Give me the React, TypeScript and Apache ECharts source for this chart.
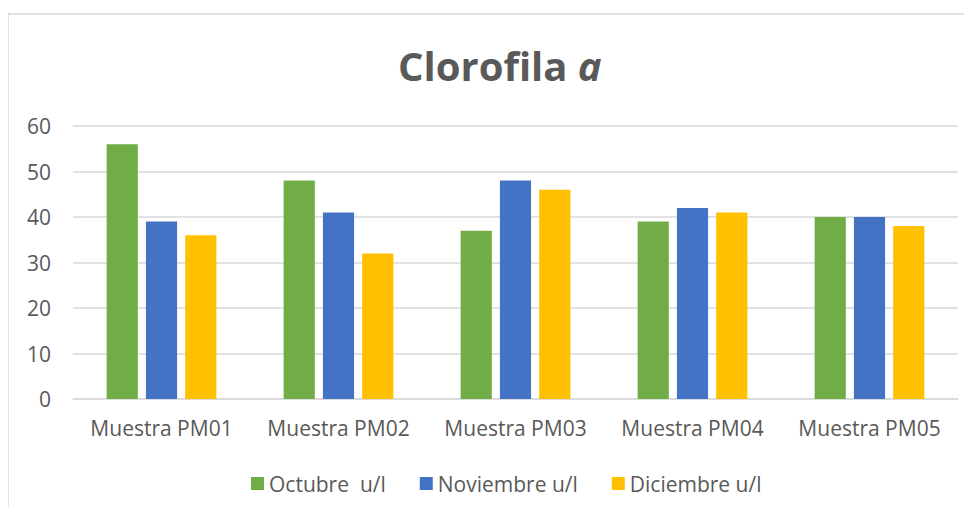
import React, { useEffect, useRef } from "react";
import * as echarts from "echarts";

const categories = ["Muestra PM01", "Muestra PM02", "Muestra PM03", "Muestra PM04", "Muestra PM05"];
const seriesNames = ["Octubre  u/l", "Noviembre u/l", "Diciembre u/l"];
const octubre = [56, 48, 37, 39, 40];
const noviembre = [39, 41, 48, 42, 40];
const diciembre = [36, 32, 46, 41, 38];
const colors = ["#70AD47", "#4472C4", "#FFC000"];
const yTicks = { min: 0, max: 60, interval: 10 };

const FONT = "'Open Sans', 'Noto Sans', sans-serif";
const TEXT = "#595959";

export default function App() {
  const ref = useRef<HTMLDivElement>(null);
  useEffect(() => {
    if (!ref.current) return;
    const chart = echarts.init(ref.current, null, { renderer: "svg" });
    const values = [octubre, noviembre, diciembre];
    chart.setOption({
      animation: false,
      backgroundColor: "#ffffff",
      textStyle: { fontFamily: FONT },
      title: {
        text: "Clorofila {i|a}",
        left: 393,
        top: 40,
        textStyle: {
          fontFamily: FONT,
          fontSize: 40,
          fontWeight: "bold",
          color: TEXT,
          rich: {
            i: { fontFamily: FONT, fontSize: 40, fontWeight: "bold", fontStyle: "italic", color: TEXT },
          },
        },
      },
      graphic: [
        {
          type: "rect",
          shape: { x: 8, y: 14, width: 1100, height: 700 },
          style: { fill: "none", stroke: "#d9d9d9", lineWidth: 1.5 },
          silent: true,
          z: -1,
        },
      ],
      legend: {
        data: seriesNames,
        left: 246,
        top: 468,
        itemWidth: 13,
        itemHeight: 13,
        itemGap: 34,
        icon: "rect",
        textStyle: { fontFamily: FONT, fontSize: 21, color: TEXT },
      },
      grid: { left: 73, right: 14, top: 126, bottom: 116, containLabel: false },
      xAxis: {
        type: "category",
        data: categories,
        axisLine: { lineStyle: { color: "#d9d9d9", width: 1.5 } },
        axisTick: { show: false },
        axisLabel: { color: TEXT, fontSize: 21, fontFamily: FONT, margin: 18, interval: 0, hideOverlap: false },
      },
      yAxis: {
        type: "value",
        min: yTicks.min,
        max: yTicks.max,
        interval: yTicks.interval,
        axisLine: { show: false },
        axisTick: { show: false },
        axisLabel: { color: TEXT, fontSize: 21, fontFamily: FONT, margin: 22 },
        splitLine: { lineStyle: { color: "#d9d9d9", width: 1.5 } },
      },
      series: seriesNames.map((name, i) => ({
        name,
        type: "bar",
        data: values[i],
        itemStyle: { color: colors[i] },
        barGap: "26%",
        barCategoryGap: "38%",
      })),
    });
    return () => chart.dispose();
  }, []);
  return <div ref={ref} style={{ width: 972, height: 515, margin: -8 }} />;
}
